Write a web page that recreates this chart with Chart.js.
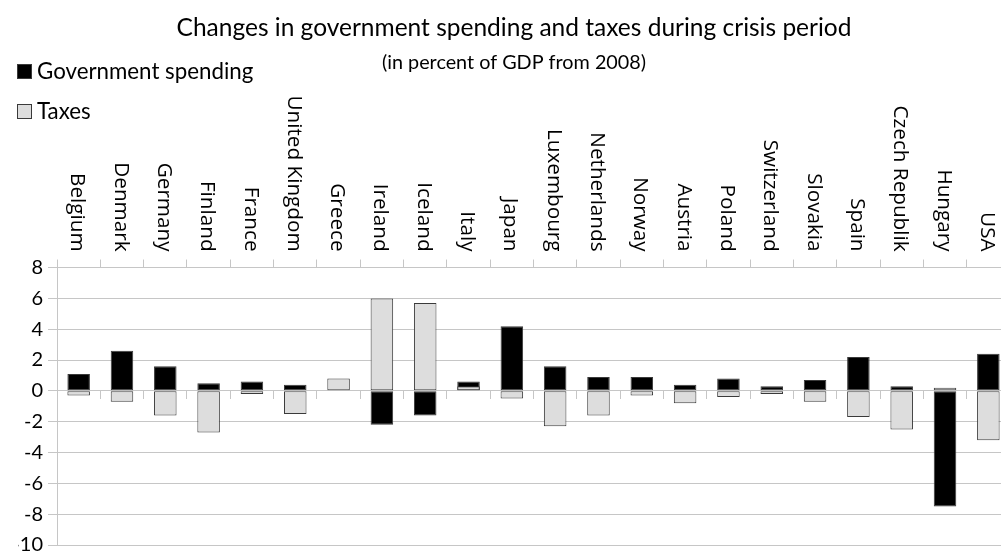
<!DOCTYPE html>
<html>
<head>
<meta charset="utf-8">
<title>Changes in government spending and taxes during crisis period</title>
<script src="https://cdn.jsdelivr.net/npm/chart.js@4.4.1/dist/chart.umd.min.js"></script>
<style>
  html, body { margin: 0; padding: 0; background: #ffffff; overflow: hidden; }
  #wrap { width: 1001px; height: 553px; overflow: hidden; }
  canvas { display: block; }
</style>
</head>
<body>
<div id="wrap"><canvas id="chart" width="1010" height="553"></canvas></div>
<script>
// Countries, in the order they appear along the axis
const categories = [
  'Belgium', 'Denmark', 'Germany', 'Finland', 'France', 'United Kingdom',
  'Greece', 'Ireland', 'Iceland', 'Italy', 'Japan', 'Luxembourg',
  'Netherlands', 'Norway', 'Austria', 'Poland', 'Switzerland', 'Slovakia',
  'Spain', 'Czech Republik', 'Hungary', 'USA'
];

// Change in percent of GDP since 2008
const governmentSpending = [
  1.1, 2.6, 1.6, 0.5, 0.6, 0.4,
  0.0, -2.2, -1.6, 0.6, 4.2, 1.6,
  0.9, 0.9, 0.4, 0.8, 0.3, 0.7,
  2.2, 0.3, -7.5, 2.4
];
const taxes = [
  -0.3, -0.7, -1.6, -2.7, -0.2, -1.5,
  0.8, 6.0, 5.7, 0.3, -0.5, -2.3,
  -1.6, -0.3, -0.8, -0.4, -0.2, -0.7,
  -1.7, -2.5, 0.2, -3.2
];

// Value axis range and tick step
const yMin = -10;
const yMax = 8;
const yStep = 2;

const seriesNames = ['Government spending', 'Taxes'];
const titleText = 'Changes in government spending and taxes during crisis period';
const subtitleText = '(in percent of GDP from 2008)';

const gridColor = '#c6c6c6';
const LABEL_FONT_SIZE = 20.7;

// Country names read top-to-bottom above the plot, plus the two-item key in the corner
const extrasPlugin = {
  id: 'countryNamesAndKey',
  afterDraw(chart) {
    const ctx = chart.ctx;
    const xScale = chart.scales.x;
    ctx.save();
    ctx.fillStyle = '#000000';
    ctx.font = LABEL_FONT_SIZE + 'px "Open Sans"';
    ctx.textAlign = 'right';
    ctx.textBaseline = 'alphabetic';
    const capHeight = 0.714 * LABEL_FONT_SIZE;
    const labelEnd = xScale.bottom - 16;
    categories.forEach((name, i) => {
      const x = xScale.getPixelForValue(i);
      ctx.save();
      ctx.translate(x - capHeight / 2, labelEnd);
      ctx.rotate(Math.PI / 2);
      ctx.fillText(name, 0, 0);
      ctx.restore();
    });

    // key
    ctx.font = '22.3px Lato';
    ctx.textAlign = 'left';
    ctx.textBaseline = 'middle';
    chart.data.datasets.forEach((ds, i) => {
      const cy = 72 + i * 40;
      ctx.fillStyle = ds.backgroundColor;
      ctx.fillRect(17.5, cy - 7.5, 14, 14);
      ctx.strokeStyle = ds.borderColor;
      ctx.lineWidth = 1;
      ctx.strokeRect(17.5, cy - 7.5, 14, 14);
      ctx.fillStyle = '#000000';
      ctx.fillText(ds.label, 37, cy);
    });
    ctx.restore();
  }
};

new Chart(document.getElementById('chart'), {
  type: 'bar',
  data: {
    labels: categories,
    datasets: [
      {
        label: seriesNames[0],
        data: governmentSpending,
        backgroundColor: '#000000',
        borderColor: '#3a3a3a',
        borderWidth: 1,
        borderSkipped: false,
        grouped: false,
        order: 1,
        barPercentage: 0.52,
        categoryPercentage: 1.0
      },
      {
        label: seriesNames[1],
        data: taxes,
        backgroundColor: '#dddddd',
        borderColor: '#3a3a3a',
        borderWidth: 1,
        borderSkipped: false,
        grouped: false,
        order: 0,
        barPercentage: 0.52,
        categoryPercentage: 1.0
      }
    ]
  },
  options: {
    responsive: false,
    animation: false,
    layout: { padding: { left: 18, right: 0, top: 0, bottom: 0 } },
    plugins: {
      legend: { display: false },
      tooltip: { enabled: false },
      title: {
        display: true,
        text: titleText,
        color: '#000000',
        font: { family: 'Lato', size: 24.5, weight: 'normal', lineHeight: 1.2 },
        padding: { top: 13, bottom: 0 }
      },
      subtitle: {
        display: true,
        text: subtitleText,
        color: '#000000',
        font: { family: 'Lato', size: 19.8, weight: 'normal', lineHeight: 1.2 },
        padding: { top: 8, bottom: 0 }
      }
    },
    scales: {
      x: {
        type: 'category',
        position: 'top',
        offset: true,
        grid: {
          offset: true,
          drawOnChartArea: false,
          drawTicks: true,
          tickLength: 8,
          color: gridColor
        },
        border: { display: true, color: gridColor },
        ticks: { display: false },
        afterFit(scale) { scale.height = 193.4; }
      },
      x2: {
        type: 'category',
        axis: 'x',
        position: { y: 0 },
        offset: true,
        grid: {
          offset: true,
          drawOnChartArea: false,
          drawTicks: true,
          tickLength: 8,
          color: gridColor
        },
        border: { display: false },
        ticks: { display: false }
      },
      y: {
        min: yMin,
        max: yMax,
        ticks: {
          stepSize: yStep,
          color: '#000000',
          padding: 5,
          font: { family: 'Lato', size: 20 }
        },
        grid: { color: gridColor, tickLength: 9 },
        border: { display: true, color: gridColor },
        afterFit(scale) {
          scale.width = 39;
          scale.paddingBottom = 8;
        }
      }
    }
  },
  plugins: [extrasPlugin]
});
</script>
</body>
</html>
